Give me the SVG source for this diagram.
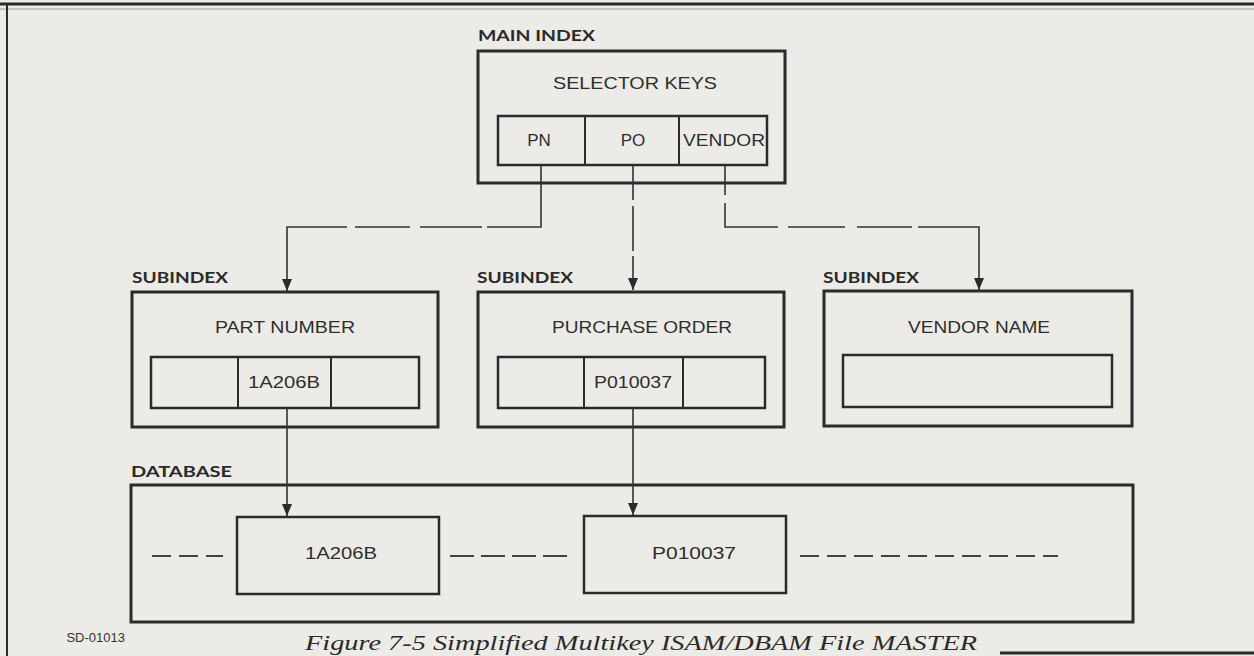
<svg xmlns="http://www.w3.org/2000/svg" width="1254" height="656" viewBox="0 0 1254 656">
<defs>
<style>
.bg{fill:#ecebe8}
.box{fill:none;stroke:#2b2b2b;stroke-width:3}
.cell{fill:none;stroke:#2b2b2b;stroke-width:2.5}
.div{stroke:#2b2b2b;stroke-width:2}
.conn{fill:none;stroke:#333;stroke-width:1.6}
.lbl{font-family:Lato,"Liberation Sans",sans-serif;font-weight:bold;font-size:16px;fill:#2a2a2a}
.t{font-family:"Liberation Sans",Arial,sans-serif;font-size:17px;fill:#2e2e2e}
.sm{font-family:"Liberation Sans",Arial,sans-serif;font-size:13px;fill:#333}
.cap{font-family:"Liberation Serif","Times New Roman",serif;font-style:italic;font-size:22px;fill:#2a2a2a}
.dash{stroke:#444;stroke-width:2;stroke-dasharray:19 8}
</style>
<marker id="arr" markerUnits="userSpaceOnUse" markerWidth="12" markerHeight="10" refX="12" refY="5" orient="auto">
<path d="M0,0 L12,5 L0,10 z" fill="#2b2b2b"/>
</marker>
</defs>
<rect class="bg" x="0" y="0" width="1254" height="656"/>
<g id="frame">
<line x1="0" y1="4" x2="1254" y2="4" stroke="#2b2b2b" stroke-width="3"/>
<line x1="0" y1="9" x2="1254" y2="9" stroke="#9a9a9a" stroke-width="1"/>
<line x1="7" y1="4" x2="7" y2="656" stroke="#2b2b2b" stroke-width="2"/>
<line x1="1000" y1="653" x2="1254" y2="653" stroke="#2b2b2b" stroke-width="3"/>
</g>

<g id="main-index">
<text class="lbl" x="478" y="41" textLength="117" lengthAdjust="spacingAndGlyphs">MAIN INDEX</text>
<rect class="box" x="478" y="51" width="307" height="132"/>
<text class="t" x="553" y="89" textLength="164" lengthAdjust="spacingAndGlyphs">SELECTOR KEYS</text>
<rect class="cell" x="498" y="116" width="269" height="49"/>
<line class="div" x1="585" y1="116" x2="585" y2="165"/>
<line class="div" x1="679" y1="116" x2="679" y2="165"/>
<text class="t" x="539" y="146" text-anchor="middle">PN</text>
<text class="t" x="633" y="146" text-anchor="middle">PO</text>
<text class="t" x="724" y="146" text-anchor="middle" textLength="82" lengthAdjust="spacingAndGlyphs">VENDOR</text>
</g>

<g id="subindex-part-number">
<text class="lbl" x="132" y="283" textLength="96" lengthAdjust="spacingAndGlyphs">SUBINDEX</text>
<rect class="box" x="132" y="292" width="306" height="135"/>
<text class="t" x="215" y="333" textLength="140" lengthAdjust="spacingAndGlyphs">PART NUMBER</text>
<rect class="cell" x="151" y="357" width="268" height="51"/>
<line class="div" x1="238" y1="357" x2="238" y2="408"/>
<line class="div" x1="331" y1="357" x2="331" y2="408"/>
<text class="t" x="284" y="388" text-anchor="middle" textLength="72" lengthAdjust="spacingAndGlyphs">1A206B</text>
</g>

<g id="subindex-purchase-order">
<text class="lbl" x="477" y="283" textLength="96" lengthAdjust="spacingAndGlyphs">SUBINDEX</text>
<rect class="box" x="478" y="292" width="306" height="135"/>
<text class="t" x="552" y="333" textLength="180" lengthAdjust="spacingAndGlyphs">PURCHASE ORDER</text>
<rect class="cell" x="498" y="357" width="267" height="51"/>
<line class="div" x1="584" y1="357" x2="584" y2="408"/>
<line class="div" x1="683" y1="357" x2="683" y2="408"/>
<text class="t" x="633" y="388" text-anchor="middle" textLength="78" lengthAdjust="spacingAndGlyphs">P010037</text>
</g>

<g id="subindex-vendor-name">
<text class="lbl" x="823" y="283" textLength="96" lengthAdjust="spacingAndGlyphs">SUBINDEX</text>
<rect class="box" x="824" y="291" width="308" height="135"/>
<text class="t" x="908" y="333" textLength="142" lengthAdjust="spacingAndGlyphs">VENDOR NAME</text>
<rect class="cell" x="843" y="355" width="269" height="52"/>
</g>

<g id="database">
<text class="lbl" x="131" y="477" textLength="101" lengthAdjust="spacingAndGlyphs">DATABASE</text>
<rect class="box" x="131" y="485" width="1002" height="137"/>
<line class="dash" x1="152" y1="556" x2="223" y2="556"/>
<line class="dash" x1="450" y1="556" x2="568" y2="556" style="stroke-dasharray:24 7"/>
<line class="dash" x1="800" y1="556" x2="1058" y2="556"/>
</g>

<g id="record-1A206B">
<rect class="cell" x="237" y="517" width="202" height="77"/>
<text class="t" x="341" y="559" text-anchor="middle" textLength="72" lengthAdjust="spacingAndGlyphs">1A206B</text>
</g>

<g id="record-P010037">
<rect class="cell" x="584" y="516" width="202" height="77"/>
<text class="t" x="694" y="559" text-anchor="middle" textLength="84" lengthAdjust="spacingAndGlyphs">P010037</text>
</g>

<g id="connectors">
<path class="conn" d="M541,165 V227 H287 V291" stroke-dasharray="116 5 62 10 55 8 400" marker-end="url(#arr)"/>
<path class="conn" d="M633,165 V290" stroke-dasharray="35 6 45 5 200" marker-end="url(#arr)"/>
<path class="conn" d="M725,165 V227 H979 V290" stroke-dasharray="30 8 77 10 57 12 55 6 400" marker-end="url(#arr)"/>
<path class="conn" d="M287,408 V516" marker-end="url(#arr)"/>
<path class="conn" d="M633,408 V515" marker-end="url(#arr)"/>
</g>

<text class="sm" x="125" y="642" text-anchor="end">SD-01013</text>
<text class="cap" x="305" y="650" textLength="672" lengthAdjust="spacingAndGlyphs">Figure 7-5  Simplified Multikey ISAM/DBAM File MASTER</text>
</svg>
